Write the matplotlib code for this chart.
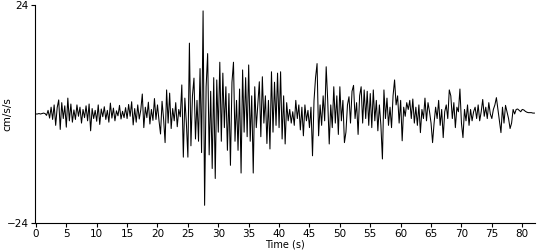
# accelerogram trace, values at 0.25 s steps
import numpy as np
import matplotlib.pyplot as plt

dt = 0.25  # sample spacing (s)

accel = [
    # 0 - 5 s
    0, 0, 0.1, 0, 0.1, 0.2, 0.1, -0.3, 0.8, -0.9, 1.5, -1.2, 2.0, -2.5, 1.4, 3.1, -3.4, 2.5, -1.0, 1.8,
    # 5 - 10 s
    -2.9, 3.5, -1.5, 2.2, -1.8, 0.9, -1.2, 2.0, -0.5, 1.5, -2.0, 1.0, -0.8, 1.8, -1.5, 2.2, -3.7, 1.2, -1.0, 0.8,
    # 10 - 15 s
    -1.6, 2.0, -2.3, 1.1, -0.6, 1.6, -1.2, 0.8, -1.8, 2.4, -0.9, 1.3, -1.5, 0.7, -0.4, 1.9, -1.1, 0.6, -0.8, 1.4,
    # 15 - 20 s
    -1.0, 2.1, -0.5, 2.7, -2.4, 1.2, -1.8, 2.0, -1.1, 0.9, 4.4, -3.0, 1.5, -0.8, 2.6, -2.2, 1.0, -1.4, 3.4, -1.2,
    # 20 - 25 s
    2.0, -1.5, -4.4, 2.8, -1.0, -6.3, 5.3, -2.0, 4.6, -3.2, 1.2, -1.5, 2.5, -2.8, 1.0, -0.6, 6.4, -9.5, 3.5, -2.0,
    # 25 - 30 s
    -9.5, 15.6, -7.0, 4.0, 7.9, -5.5, 3.0, -6.0, 10.0, -8.5, 22.7, -20.1, 6.0, 13.3, -9.0, 5.0, -12.0, 8.0, -14.2, 7.5,
    # 30 - 35 s
    -4.0, 11.4, -6.0, 9.0, -3.0, 6.0, -8.0, 4.5, -11.3, 7.0, 11.4, -6.0, 3.0, -8.0, 5.5, -13.0, 9.7, -4.0, 8.0, -5.0,
    # 35 - 40 s
    10.8, -6.0, 4.0, -13.0, 6.0, -3.0, 2.0, 7.1, -5.0, 8.2, -2.0, 4.0, -6.5, 3.0, -7.7, 9.3, -4.0, 7.0, -2.5, 9.0,
    # 40 - 45 s
    -3.0, 9.3, -5.5, 4.0, -6.6, 2.5, -1.5, 1.0, -2.0, 0.5, -2.5, 3.0, -1.0, 2.0, -3.5, 1.5, -4.8, 2.0, -1.5, 0.8,
    # 45 - 50 s
    -3.0, 1.5, -9.2, 3.0, 8.0, 11.1, -4.8, 2.0, -2.5, 4.0, -1.5, 10.4, 3.0, -6.6, 2.0, -3.0, 6.0, -2.0, 4.0, -4.5,
    # 50 - 55 s
    6.0, -1.5, 3.0, -6.3, -4.0, 2.0, 3.8, -2.0, 5.0, 6.3, -1.0, 2.5, -4.5, 4.0, 6.0, -2.0, 5.3, -1.0, 5.0, -2.5,
    # 55 - 60 s
    4.5, -3.0, 5.3, -1.5, 3.0, -3.7, 2.0, -2.5, -9.9, 5.3, -1.0, 3.5, -2.5, 1.5, -3.0, 4.0, 7.5, 2.0, 4.0, -2.0,
    # 60 - 65 s
    3.0, -5.9, 1.5, -0.5, 2.5, 1.0, 3.0, -1.0, 3.3, -2.0, 1.5, -2.5, 2.0, -4.1, 1.0, -1.0, 3.5, -1.5, 2.5, 0.5,
    # 65 - 70 s
    -2.0, -6.3, -2.0, 1.5, -1.0, 3.0, -2.5, 1.0, -5.2, 0.5, 2.0, -1.0, 5.3, 4.0, -1.0, 2.5, -3.0, 1.5, 0.5, 5.5,
    # 70 - 75 s
    -2.0, -5.2, 1.0, -1.5, 2.0, -2.5, 1.0, -1.5, 0.5, 1.5, -1.0, 2.0, -1.5, 0.5, 3.2, -0.5, 1.5, -1.0, 2.5, 0.0,
    # 75 - 80 s
    -1.0, 1.0, 2.0, 3.6, 1.0, -1.5, -4.1, 1.5, -2.0, 1.9, 0.5, -1.0, -3.2, -2.0, 1.0, 0.0, 1.0, 1.1, 0.8, 0.5,
    # 80 - 82 s
    1.0, 0.9, 0.6, 0.4, 0.3, 0.3, 0.3, 0.2, 0.2,
]
time = np.arange(len(accel)) * dt

xticks = list(range(0, 85, 5))
yticks = [-24, 24]

fig = plt.figure(figsize=(5.5, 2.5), dpi=100)
ax = fig.add_axes([35 / 550, 27 / 250, 500 / 550, 218 / 250])

ax.plot(time, accel, color='black', lw=0.75)

ax.set_xlim(-0.15, 82.1)
ax.set_ylim(-24, 24)
ax.set_xticks(xticks)
ax.set_yticks(yticks)
ax.tick_params(axis='both', labelsize=7.5, length=3, width=0.8, pad=1.5)
ax.set_xlabel('Time (s)', fontsize=7, labelpad=0)
ax.set_ylabel('cm/s/s', fontsize=7.5, labelpad=-4)

for side in ('top', 'right'):
    ax.spines[side].set_visible(False)
for side in ('left', 'bottom'):
    ax.spines[side].set_linewidth(0.8)

fig.savefig('out.png', dpi=100)
